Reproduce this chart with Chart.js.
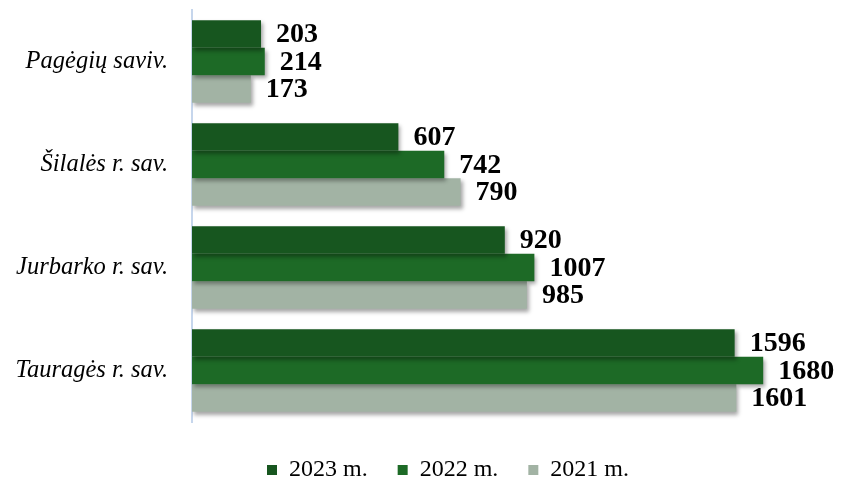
<!DOCTYPE html>
<html>
<head>
<meta charset="utf-8">
<script src="https://cdn.jsdelivr.net/npm/chart.js@4/dist/chart.umd.min.js"></script>
<style>
  html, body { margin: 0; padding: 0; background: #fff; }
  #wrap { width: 848px; height: 480px; }
</style>
</head>
<body>
<div id="wrap"><canvas id="chart"></canvas></div>
<script>
// data
var savivaldybes = ['Pagėgių saviv.', 'Šilalės r. sav.', 'Jurbarko r. sav.', 'Tauragės r. sav.'];
var metai = ['2023 m.', '2022 m.', '2021 m.'];
var v2023 = [203, 607, 920, 1596];
var v2022 = [214, 742, 1007, 1680];
var v2021 = [173, 790, 985, 1601];

var tamsi = '#17561f';
var zalia = '#1d6a26';
var pilka = '#a2b3a4';
var serif = '"Liberation Serif", "Times New Roman", serif';

// bar shadow
var seseliai = {
  id: 'seseliai',
  beforeDatasetDraw: function (chart) {
    var c = chart.ctx;
    c.save();
    c.shadowColor = 'rgba(0,0,0,0.35)';
    c.shadowBlur = 4;
    c.shadowOffsetX = 2;
    c.shadowOffsetY = 3;
  },
  afterDatasetDraw: function (chart) {
    chart.ctx.restore();
  }
};

// value labels at bar ends
var reiksmes = {
  id: 'reiksmes',
  afterDatasetsDraw: function (chart) {
    var c = chart.ctx;
    c.save();
    c.font = 'bold 28px ' + serif;
    c.fillStyle = '#000';
    c.textAlign = 'left';
    c.textBaseline = 'middle';
    chart.data.datasets.forEach(function (ds, i) {
      chart.getDatasetMeta(i).data.forEach(function (bar, j) {
        c.fillText(ds.data[j], bar.x + 15, bar.y + 1);
      });
    });
    c.restore();
  }
};

// legend sits low, keep its box small
var legenda = {
  id: 'legenda',
  beforeUpdate: function (chart) {
    var lg = chart.legend;
    if (lg && !lg._pataisyta) {
      var fit = lg.fit;
      lg.fit = function () {
        fit.call(this);
        this.height = 58;
      };
      lg._pataisyta = true;
    }
  },
  afterLayout: function (chart) {
    chart.legend.left += 46;
    chart.legend.right += 46;
    chart.legend.top += 6;
    chart.legend.bottom += 6;
  }
};

new Chart(document.getElementById('chart'), {
  type: 'bar',
  data: {
    labels: savivaldybes,
    datasets: [
      { label: metai[0], data: v2023, backgroundColor: tamsi },
      { label: metai[1], data: v2022, backgroundColor: zalia },
      { label: metai[2], data: v2021, backgroundColor: pilka }
    ]
  },
  options: {
    indexAxis: 'y',
    responsive: true,
    maintainAspectRatio: false,
    animation: false,
    layout: { padding: { top: 10, right: 44, left: 0, bottom: 0 } },
    datasets: { bar: { categoryPercentage: 0.8, barPercentage: 1 } },
    scales: {
      x: { display: false, min: 0, max: 1800 },
      y: {
        grid: { display: false, drawTicks: false },
        border: { display: true, color: '#c6d6ec', width: 2 },
        ticks: {
          padding: 24,
          color: '#000',
          font: { family: serif, size: 24.5, style: 'italic' }
        },
        afterFit: function (scale) {
          scale.width = 192;
          scale.paddingTop = 0;
          scale.paddingBottom = 0;
        }
      }
    },
    plugins: {
      tooltip: { enabled: false },
      legend: {
        position: 'bottom',
        labels: {
          boxWidth: 10,
          boxHeight: 10,
          padding: 30,
          color: '#000',
          font: { family: serif, size: 24 }
        }
      }
    }
  },
  plugins: [seseliai, reiksmes, legenda]
});
</script>
</body>
</html>
